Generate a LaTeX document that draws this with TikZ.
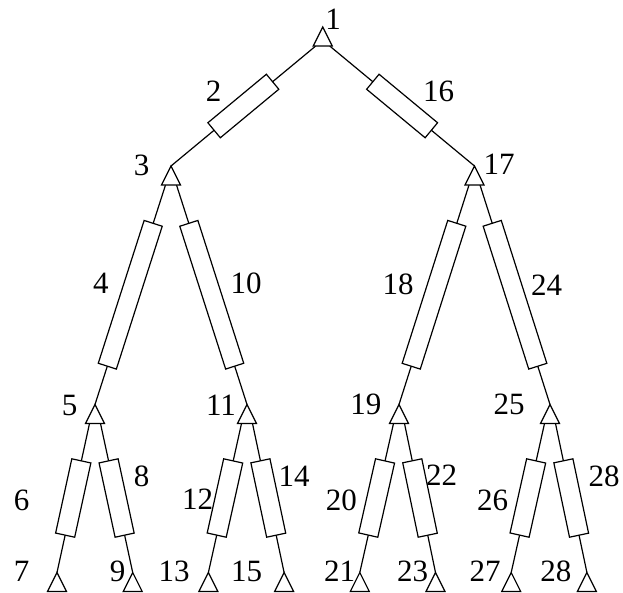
\documentclass[tikz,border=0pt]{standalone}
\usepackage{fontspec}
\setmainfont{Liberation Serif}
\begin{document}
\begin{tikzpicture}[x=1pt,y=-1pt,line width=1.2pt,
  lbl/.style={inner sep=0pt,font=\fontsize{31}{34}\selectfont},
  resS/.style={draw,fill=white,sloped,inner sep=0pt,minimum width=76pt,minimum height=19.5pt},
  resL/.style={draw,fill=white,sloped,inner sep=0pt,minimum width=150pt,minimum height=19pt},
  tri/.style={draw,fill=white,line join=miter}]
\useasboundingbox (0,0) rectangle (623,592);
\newcommand{\mytri}[4]{%
  \coordinate (#1) at (#2,#3);
  \coordinate (#1-l) at (#2-#4,#3+19);
  \coordinate (#1-r) at (#2+#4,#3+19);}
\mytri{a1}{322.7}{27}{7}
\mytri{a3}{171}{166}{5.5}
\mytri{a17}{474.5}{166}{5.5}
\mytri{a5}{95}{404.5}{5.5}
\mytri{a11}{247}{404.5}{5.5}
\mytri{a19}{399}{404.5}{5.5}
\mytri{a25}{550}{404.5}{5.5}
\mytri{a7}{57}{572.5}{5.5}
\mytri{a9}{132.7}{572.5}{5.5}
\mytri{a13}{208.4}{572.5}{5.5}
\mytri{a15}{284.1}{572.5}{5.5}
\mytri{a21}{359.8}{572.5}{5.5}
\mytri{a23}{435.5}{572.5}{5.5}
\mytri{a27}{511.2}{572.5}{5.5}
\mytri{a29}{586.9}{572.5}{5.5}
% connectors with resistors
\draw (a1-l) -- node[resS] (r2) {} (a3);
\draw (a1-r) -- node[resS] (r16) {} (a17);
\draw (a3-l) -- node[resL] (r4) {} (a5);
\draw (a3-r) -- node[resL] (r10) {} (a11);
\draw (a17-l) -- node[resL] (r18) {} (a19);
\draw (a17-r) -- node[resL] (r24) {} (a25);
\draw (a5-l) -- node[resS] (r6) {} (a7);
\draw (a5-r) -- node[resS] (r8) {} (a9);
\draw (a11-l) -- node[resS] (r12) {} (a13);
\draw (a11-r) -- node[resS] (r14) {} (a15);
\draw (a19-l) -- node[resS] (r20) {} (a21);
\draw (a19-r) -- node[resS] (r22) {} (a23);
\draw (a25-l) -- node[resS] (r26) {} (a27);
\draw (a25-r) -- node[resS] (r28) {} (a29);
% triangles
\foreach \n in {a1,a3,a17,a5,a11,a19,a25,a7,a9,a13,a15,a21,a23,a27,a29}
  \draw[tri] (\n) -- ++(-9.5,19) -- ++(19,0) -- cycle;
% labels
\node[lbl] (t1) at (333,19) {1};
\node[lbl] (t2) at (213.7,91) {2};
\node[lbl] (t16) at (438.7,91) {16};
\node[lbl] (t3) at (141.7,165) {3};
\node[lbl] (t17) at (499,164) {17};
\node[lbl] (t4) at (100.8,283) {4};
\node[lbl] (t10) at (246,283.7) {10};
\node[lbl] (t18) at (398,284) {18};
\node[lbl] (t24) at (546.7,285.5) {24};
\node[lbl] (t5) at (69.7,405) {5};
\node[lbl] (t11) at (221,405) {11};
\node[lbl] (t19) at (365.8,404) {19};
\node[lbl] (t25) at (509,404) {25};
\node[lbl] (t6) at (21.7,500) {6};
\node[lbl] (t8) at (141.7,476) {8};
\node[lbl] (t12) at (197.5,499) {12};
\node[lbl] (t14) at (294,476) {14};
\node[lbl] (t20) at (341.3,500) {20};
\node[lbl] (t22) at (441.7,475.5) {22};
\node[lbl] (t26) at (492.5,500) {26};
\node[lbl] (t28a) at (604,476.7) {28};
\node[lbl] (t7) at (21.7,571) {7};
\node[lbl] (t9) at (117.5,571) {9};
\node[lbl] (t13) at (174,571) {13};
\node[lbl] (t15) at (246.7,571) {15};
\node[lbl] (t21) at (339.7,571) {21};
\node[lbl] (t23) at (412.5,571) {23};
\node[lbl] (t27) at (485,571) {27};
\node[lbl] (t28b) at (555.8,571) {28};
\end{tikzpicture}
\end{document}
